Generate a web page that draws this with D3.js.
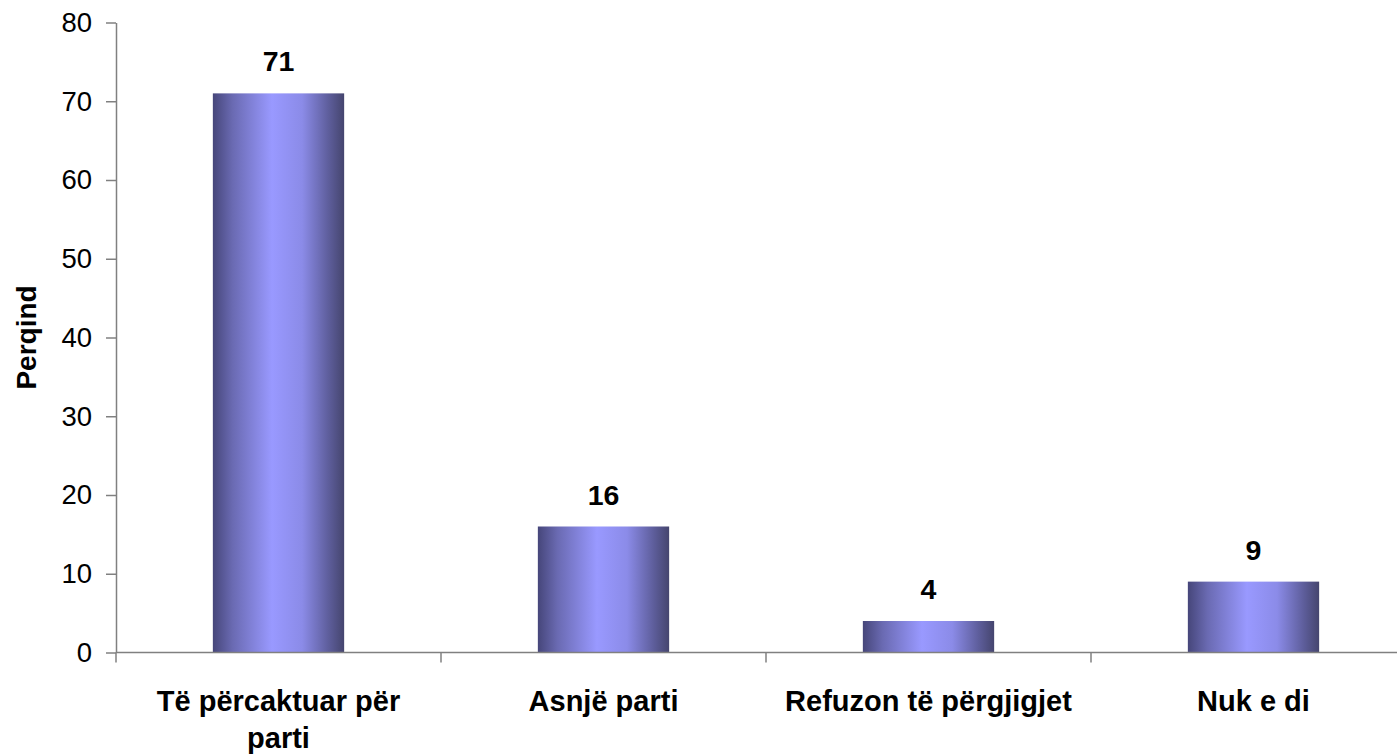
<!DOCTYPE html>
<html>
<head>
<meta charset="utf-8">
<script src="https://cdn.jsdelivr.net/npm/d3@7"></script>
<style>
  body { margin: 0; background: #fff; }
  text { font-family: Arial, "Liberation Sans", sans-serif; }
</style>
</head>
<body>
<svg id="chart" width="1397" height="755"></svg>
<script>
// data
var categories = ["Të përcaktuar për parti", "Asnjë parti", "Refuzon të përgjigjet", "Nuk e di"];
var values = [71, 16, 4, 9];
var yTicks = [0, 10, 20, 30, 40, 50, 60, 70, 80];
var yTitle = "Perqind";

var width = 1397, height = 755;
var plotLeft = 116, plotRight = 1416, plotTop = 22.5, plotBottom = 652.5;

var svg = d3.select("#chart");

// bar gradient, dark edges and light centre
var grad = svg.append("defs").append("linearGradient")
  .attr("id", "barGrad")
  .attr("x1", "0%").attr("x2", "100%").attr("y1", "0%").attr("y2", "0%");
[[0, "#46467a"], [0.15, "#6a6ab2"], [0.45, "#9999ff"], [0.68, "#8b8be8"], [0.88, "#5e5e9c"], [1, "#45456e"]]
  .forEach(function(s) {
    grad.append("stop").attr("offset", s[0]).attr("stop-color", s[1]);
  });

var x = d3.scaleBand().domain(categories).range([plotLeft, plotRight]).padding(0);
var y = d3.scaleLinear().domain([0, 80]).range([plotBottom, plotTop]);

var barW = x.bandwidth() * 0.404;

// bars
svg.append("g").selectAll("rect")
  .data(values)
  .enter()
  .append("rect")
  .attr("x", function(d, i) { return x(categories[i]) + x.bandwidth() / 2 - barW / 2; })
  .attr("y", function(d) { return y(d); })
  .attr("width", barW)
  .attr("height", function(d) { return y(0) - y(d); })
  .attr("fill", "url(#barGrad)");

// value labels
svg.append("g").selectAll("text")
  .data(values)
  .enter()
  .append("text")
  .attr("x", function(d, i) { return x(categories[i]) + x.bandwidth() / 2; })
  .attr("y", function(d) { return y(d) - 22; })
  .attr("text-anchor", "middle")
  .style("font-size", "28.5px")
  .style("font-weight", "bold")
  .text(function(d) { return d; });

// y axis
var yAxis = svg.append("g")
  .attr("transform", "translate(" + plotLeft + ",0)")
  .call(d3.axisLeft(y).tickValues(yTicks).tickSize(10).tickPadding(14).tickSizeOuter(0));
yAxis.select(".domain").attr("stroke", "#808080").attr("stroke-width", 1.5);
yAxis.selectAll(".tick line").attr("stroke", "#808080").attr("stroke-width", 1.5);
yAxis.selectAll(".tick text")
  .style("font-size", "27.5px")
  .style("font-family", "Arial, 'Liberation Sans', sans-serif")
  .attr("fill", "#000");

// x axis line with ticks at the category boundaries
var xg = svg.append("g");
xg.append("line")
  .attr("x1", plotLeft).attr("x2", plotRight)
  .attr("y1", y(0)).attr("y2", y(0))
  .attr("stroke", "#808080").attr("stroke-width", 1.5);
xg.selectAll("line.tk")
  .data(categories.map(function(c) { return x(c); }).concat([plotRight]))
  .enter()
  .append("line")
  .attr("class", "tk")
  .attr("x1", function(d) { return d; }).attr("x2", function(d) { return d; })
  .attr("y1", y(0)).attr("y2", y(0) + 10)
  .attr("stroke", "#808080").attr("stroke-width", 1.5);

// category labels, wrapped
xg.selectAll("text")
  .data(categories)
  .enter()
  .append("text")
  .attr("x", function(d) { return x(d) + x.bandwidth() / 2; })
  .attr("y", y(0) + 58)
  .attr("text-anchor", "middle")
  .style("font-size", "29px")
  .style("font-weight", "bold")
  .each(function(d) { wrap(d3.select(this), d, 300); });

function wrap(el, str, maxW) {
  var words = str.split(" ");
  var line = [];
  var cx = el.attr("x");
  var tspan = el.append("tspan").attr("x", cx).attr("dy", 0);
  words.forEach(function(w) {
    line.push(w);
    tspan.text(line.join(" "));
    if (tspan.node().getComputedTextLength() > maxW && line.length > 1) {
      line.pop();
      tspan.text(line.join(" "));
      line = [w];
      tspan = el.append("tspan").attr("x", cx).attr("dy", 37).text(w);
    }
  });
}

// y title
svg.append("text")
  .attr("transform", "translate(36," + ((plotTop + plotBottom) / 2) + ") rotate(-90)")
  .attr("text-anchor", "middle")
  .style("font-size", "28px")
  .style("font-weight", "bold")
  .text(yTitle);
</script>
</body>
</html>
